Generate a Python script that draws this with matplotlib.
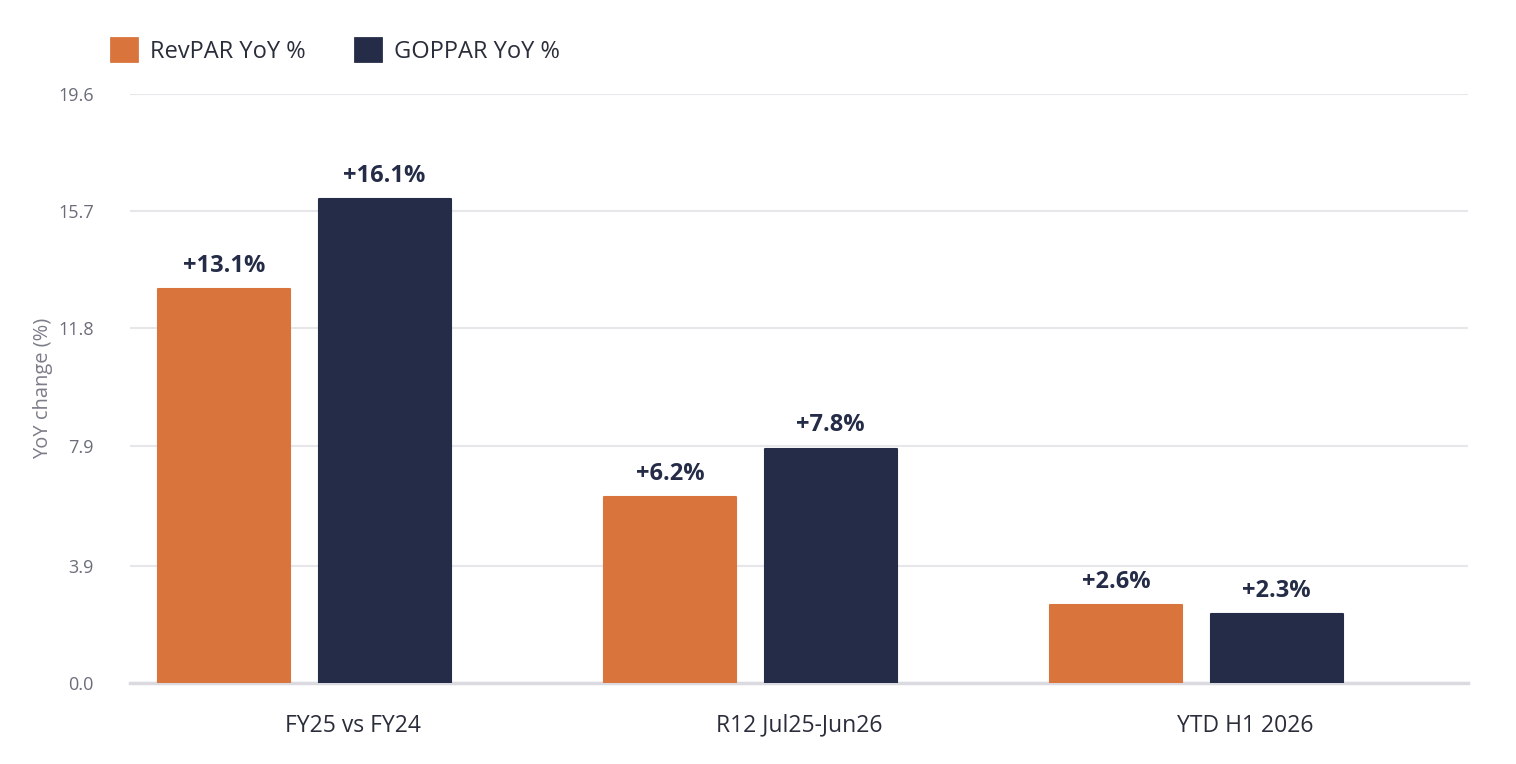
import matplotlib
matplotlib.use("Agg")
import matplotlib.pyplot as plt
import numpy as np
from matplotlib.patches import Patch

categories = ["FY25 vs FY24", "R12 Jul25-Jun26", "YTD H1 2026"]
revpar = [13.1, 6.2, 2.6]
goppar = [16.1, 7.8, 2.3]
yticks = [0.0, 3.9, 7.9, 11.8, 15.7, 19.6]

ORANGE = "#D9743C"
NAVY = "#252C47"

plt.rcParams["font.family"] = ["Open Sans", "DejaVu Sans"]

fig = plt.figure(figsize=(15.16, 7.64), dpi=100)
ax = fig.add_axes([130 / 1516, 81 / 764, 1338 / 1516, 589 / 764])

x = np.arange(len(categories))
w = 0.296
b1 = ax.bar(x - 0.289, revpar, w, color=ORANGE, edgecolor=ORANGE, linewidth=1.5,
            joinstyle="round", zorder=3, label="RevPAR YoY %")
b2 = ax.bar(x + 0.071, goppar, w, color=NAVY, edgecolor=NAVY, linewidth=1.5,
            joinstyle="round", zorder=3, label="GOPPAR YoY %")

for bars, vals in ((b1, revpar), (b2, goppar)):
    for r, v in zip(bars, vals):
        ax.annotate(f"+{v:.1f}%", (r.get_x() + r.get_width() / 2, v),
                    xytext=(0, 8), textcoords="offset points",
                    ha="center", va="bottom", fontsize=17, fontweight="bold",
                    color=NAVY)

ax.set_xlim(-0.5, 2.5)
ax.set_ylim(0, 19.6)
ax.set_yticks(yticks)
ax.set_yticklabels([f"{t:.1f}" for t in yticks])
ax.set_xticks(x)
ax.set_xticklabels(categories)
ax.tick_params(axis="y", length=0, pad=26, labelsize=13, labelcolor="#6B6E7A")
ax.tick_params(axis="x", length=0, pad=22, labelsize=16.5, labelcolor="#2A2D3A")
ax.grid(axis="y", color="#E6E6EB", linewidth=1.5, zorder=0)
for s in ("top", "right", "left"):
    ax.spines[s].set_visible(False)
ax.spines["bottom"].set_color("#DADAE0")
ax.spines["bottom"].set_linewidth(2.5)
ax.set_ylabel("YoY change (%)", fontsize=14.5, color="#7A7D88", labelpad=4)

handles = [Patch(facecolor=ORANGE, edgecolor=ORANGE, joinstyle="round", linewidth=2,
                 label="RevPAR YoY %"),
           Patch(facecolor=NAVY, edgecolor=NAVY, joinstyle="round", linewidth=2,
                 label="GOPPAR YoY %")]
fig.legend(handles=handles, loc="center left", bbox_to_anchor=(90 / 1516, 1 - 51 / 764),
           ncol=2, frameon=False, fontsize=17, handlelength=1.1, handleheight=1.1,
           handletextpad=0.55, columnspacing=2.1, labelcolor="#2A2D3A")

fig.savefig("out.png", dpi=100)
